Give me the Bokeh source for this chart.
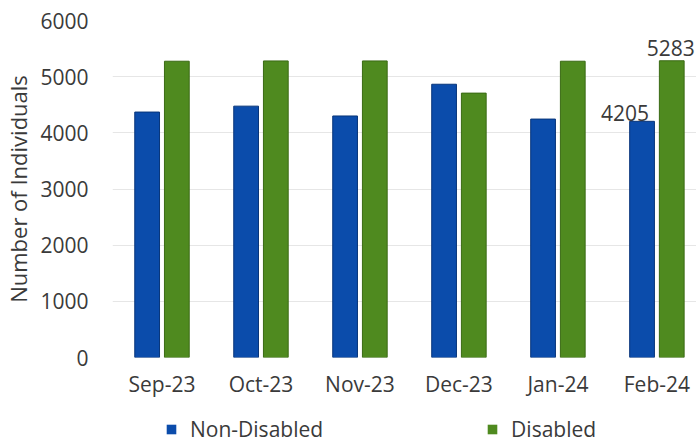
from bokeh.plotting import figure
from bokeh.layouts import column
from bokeh.models import ColumnDataSource, FixedTicker, Legend, LegendItem, Range1d
from bokeh.transform import dodge
from bokeh.core.properties import value
from bokeh.embed import file_html
from bokeh.resources import INLINE

months = ["Sep-23", "Oct-23", "Nov-23", "Dec-23", "Jan-24", "Feb-24"]
non_disabled = [4370, 4475, 4300, 4865, 4245, 4205]
disabled = [5275, 5280, 5280, 4707, 5275, 5283]
y_ticks = [0, 1000, 2000, 3000, 4000, 5000, 6000]
series_names = ["Non-Disabled", "Disabled"]

BLUE = "#0b4cab"
GREEN = "#4f8a1f"
BLUE_EDGE = "#08357a"
GREEN_EDGE = "#3a6a14"
TXT = "#3a3a3a"
FONT = "Open Sans"

idx = list(range(len(months)))
src = ColumnDataSource(dict(x=idx, nd=non_disabled, d=disabled))

p = figure(width=696, height=400, output_backend="svg", toolbar_location=None,
           x_range=Range1d(-0.5, 5.4), y_range=Range1d(0, 6000),
           min_border_left=112, min_border_right=0, min_border_top=20, min_border_bottom=42)
p.outline_line_color = None

p.vbar(x=dodge("x", -0.15), top="nd", width=0.25, source=src,
       fill_color=BLUE, line_color=BLUE_EDGE, line_width=1)
p.vbar(x=dodge("x", 0.15), top="d", width=0.25, source=src,
       fill_color=GREEN, line_color=GREEN_EDGE, line_width=1)

# data labels for the last month
last = len(months) - 1
p.text(x=[last - 0.15], y=[non_disabled[last]], text=[str(non_disabled[last])],
       x_offset=-17, y_offset=-8, text_align="center", text_baseline="alphabetic",
       text_font=value(FONT), text_font_size="21px", text_color=TXT)
p.text(x=[last + 0.15], y=[disabled[last]], text=[str(disabled[last])],
       x_offset=-1, y_offset=-13, text_align="center", text_baseline="alphabetic",
       text_font=value(FONT), text_font_size="21px", text_color=TXT)

# axes
p.xaxis.ticker = FixedTicker(ticks=idx)
p.xaxis.major_label_overrides = {i: m for i, m in zip(idx, months)}
p.yaxis.ticker = FixedTicker(ticks=y_ticks)
for ax in (p.xaxis, p.yaxis):
    ax.axis_line_color = None
    ax.major_tick_line_color = None
    ax.minor_tick_line_color = None
    ax.major_tick_out = 0
    ax.major_label_text_font = FONT
    ax.major_label_text_font_size = "21px"
    ax.major_label_text_color = TXT
p.xaxis.major_label_standoff = 12
p.yaxis.major_label_standoff = 24
p.yaxis.axis_label = "Number of Individuals"
p.yaxis.axis_label_text_font = FONT
p.yaxis.axis_label_text_font_size = "22px"
p.yaxis.axis_label_text_font_style = "normal"
p.yaxis.axis_label_text_color = TXT
p.yaxis.axis_label_standoff = 4

p.xgrid.grid_line_color = None
p.ygrid.grid_line_color = "#e6e6e6"
p.ygrid.grid_line_width = 1

# legend strip below the chart (zero-height proxy renderers: they only feed the legend)
lf = figure(width=696, height=43, output_backend="svg", toolbar_location=None,
            x_range=Range1d(-0.5, 5.4), y_range=Range1d(0, 6000),
            x_axis_location=None, y_axis_location=None,
            min_border_left=112, min_border_right=0, min_border_top=0, min_border_bottom=0)
lf.outline_line_color = None
lf.xgrid.grid_line_color = None
lf.ygrid.grid_line_color = None
k1 = lf.vbar(x="x", top="nd", bottom="nd", width=0.25, source=src,
             fill_color=BLUE, line_color=None)
k2 = lf.vbar(x="x", top="d", bottom="d", width=0.25, source=src,
             fill_color=GREEN, line_color=None)
legend = Legend(items=[LegendItem(label=series_names[0], renderers=[k1]),
                       LegendItem(label=series_names[1], renderers=[k2])],
                orientation="horizontal", location=(53, 0),
                glyph_width=12, glyph_height=12, label_standoff=13, spacing=163,
                padding=0, margin=0, border_line_color=None, background_fill_alpha=0,
                label_text_font=FONT, label_text_font_size="21px", label_text_color=TXT)
lf.add_layout(legend, "center")

page = column(p, lf, spacing=0)
open("out.html", "w").write(file_html(page, INLINE))
